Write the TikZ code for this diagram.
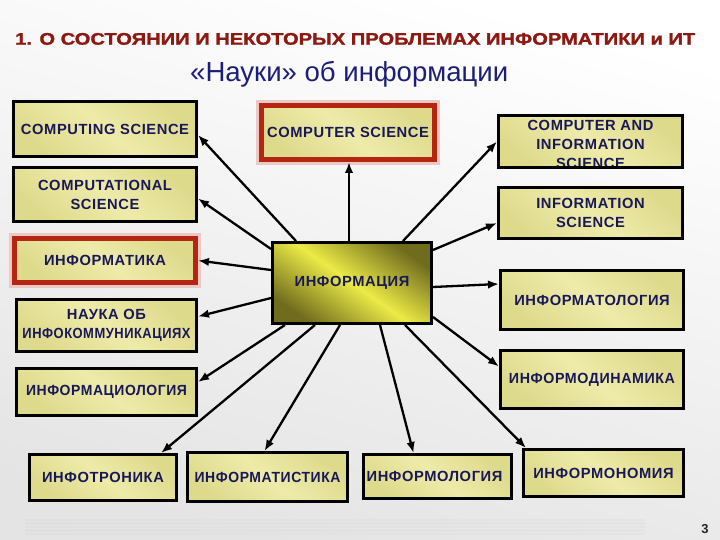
\documentclass[tikz,border=0pt]{standalone}
\usepackage{fontspec}
\setmainfont{Liberation Sans}
\newfontfamily\boxfam[LetterSpace=4]{Liberation Sans}
\newfontface\titleface[FakeBold=1.4]{Liberation Sans Bold}
\usetikzlibrary{arrows.meta,calc}
\definecolor{txt}{RGB}{24,24,88}
\definecolor{titlered}{RGB}{140,26,18}
\definecolor{subnavy}{RGB}{28,30,120}
\definecolor{boxA}{RGB}{222,218,140}
\definecolor{boxB}{RGB}{238,235,170}
\definecolor{redb}{RGB}{180,38,18}
\definecolor{olivec}{RGB}{112,108,30}
\definecolor{yellowc}{RGB}{236,234,70}
\definecolor{bgB}{RGB}{228,228,228}
\begin{document}
\begin{tikzpicture}[x=1pt,y=-1pt,
  box/.style={draw=black, line width=3pt, left color=boxA, right color=boxA, middle color=boxB, shading angle=-40,
    text=txt, font=\boxfam\bfseries\fontsize{14.7}{19}\selectfont, align=center, inner sep=0pt},
  redbox/.style={box, draw=redb, line width=5pt, preaction={draw=redb!25, line width=11pt}},
  centerbox/.style={box, left color=olivec, right color=olivec, middle color=yellowc, shading angle=-35},
  frameonly/.style={draw=black, line width=3pt, inner sep=0pt},
  arr/.style={-{Latex[length=11pt,width=8.5pt]}, line width=2.3pt, draw=black}]
\useasboundingbox (0,0) rectangle (720,540);
\shade[top color=white, bottom color=bgB, shading angle=-15] (0,0) rectangle (720,540);
\foreach \yy in {519,522.5,526,529.5,533}{
  \shade[left color=gray!25, right color=bgB] (25,\yy) rectangle (645,\yy+1.8);
}
% title
\node[anchor=base west, inner sep=0pt, text=titlered] (title) at (15,44.7)
  {\resizebox{680pt}{11.7pt}{\titleface 1. О СОСТОЯНИИ И НЕКОТОРЫХ ПРОБЛЕМАХ ИНФОРМАТИКИ и ИТ}};
\node[anchor=base west, inner sep=0pt, text=subnavy] (sub) at (190,81.3)
  {\resizebox{318pt}{!}{\fontsize{19}{19}\selectfont «Науки» об информации}};
\node[anchor=base, inner sep=0pt, font=\bfseries\fontsize{13}{13}\selectfont, text=black!85] (pg) at (705,533) {3};
% left column
\node[box, minimum width=183pt, minimum height=55pt] (cs1) at (105,129) {COMPUTING SCIENCE};
\node[box, minimum width=183pt, minimum height=54pt] (cs2) at (105,194.5) {COMPUTATIONAL\\SCIENCE};
\node[redbox, minimum width=181pt, minimum height=44pt] (inf1) at (105,260.5) {ИНФОРМАТИКА};
\node[box, minimum width=180pt, minimum height=52pt] (nauka) at (106.5,325.5) {НАУКА ОБ\\\scalebox{0.88}[1]{ИНФОКОММУНИКАЦИЯХ}};
\node[box, minimum width=180pt, minimum height=47pt] (inforg) at (106.5,392) {\scalebox{0.95}[1]{ИНФОРМАЦИОЛОГИЯ}};
% middle
\node[redbox, minimum width=173pt, minimum height=54pt] (csci) at (348,132.5) {COMPUTER SCIENCE};
\node[centerbox, minimum width=159pt, minimum height=81pt] (info) at (352,283) {\raisebox{-2pt}{ИНФОРМАЦИЯ}};
% right column
\node[box, minimum width=184pt, minimum height=52pt] (cis) at (590.5,141.5) {};
\node[anchor=north, inner sep=0pt, text=txt, align=center, font=\boxfam\bfseries\fontsize{14.7}{19}\selectfont] (cisT) at (590.5,120.3) {COMPUTER AND\\INFORMATION\\SCIENCE};
\node[frameonly, minimum width=184pt, minimum height=52pt] (cisF) at (cis.center) {};
\node[box, minimum width=184pt, minimum height=51pt] (is) at (590.5,213) {INFORMATION\\SCIENCE};
\node[box, minimum width=183pt, minimum height=59pt] (infatol) at (592,300) {ИНФОРМАТОЛОГИЯ};
\node[box, minimum width=183pt, minimum height=58pt] (infdin) at (592,379.5) {\scalebox{0.97}[1]{ИНФОРМОДИНАМИКА}};
% bottom row
\node[box, minimum width=147pt, minimum height=46pt] (inftron) at (103,477.5) {ИНФОТРОНИКА};
\node[box, minimum width=160pt, minimum height=49pt] (infstat) at (267.5,477) {\scalebox{0.95}[1]{ИНФОРМАТИСТИКА}};
\node[box, minimum width=148pt, minimum height=44pt] (infmol) at (437.5,476.5) {ИНФОРМОЛОГИЯ\hspace*{6pt}};
\node[box, minimum width=160pt, minimum height=47pt] (infnom) at (603.5,473) {ИНФОРМОНОМИЯ};
% connectors
\draw[arr] ($(info.north west)+(25,0)$) -- ($(cs1.east)+(0,6)$);
\draw[arr] ($(info.north west)+(0,8)$) -- ($(cs2.east)+(0,4)$);
\draw[arr] ($(info.north west)+(0,29)$) -- (inf1.east);
\draw[arr] ($(info.north west)+(0,57)$) -- ($(nauka.east)+(0,-9)$);
\draw[arr] ($(info.south west)+(14,0)$) -- ($(inforg.east)+(0,-10)$);
\draw[arr] ($(info.south west)+(44,0)$) -- ($(inftron.north east)+(-17,0)$);
\draw[arr] ($(info.south west)+(69,0)$) -- ($(infstat.north)+(-3,0)$);
\draw[arr] ($(info.south west)+(109,0)$) -- ($(infmol.north)+(-24,0)$);
\draw[arr] ($(info.south west)+(134,0)$) -- ($(infnom.north west)+(4,0)$);
\draw[arr] ($(info.south east)+(0,-8)$) -- ($(infdin.west)+(0,-13)$);
\draw[arr] ($(info.east)+(0,4)$) -- ($(infatol.west)+(0,-16)$);
\draw[arr] ($(info.north east)+(0,9)$) -- ($(is.west)+(0,10)$);
\draw[arr] ($(info.north east)+(-30,0)$) -- (cis.west);
\draw[arr] ($(info.north)+(-3,0)$) -- ($(csci.south)+(1,0)$);
\end{tikzpicture}
\end{document}
